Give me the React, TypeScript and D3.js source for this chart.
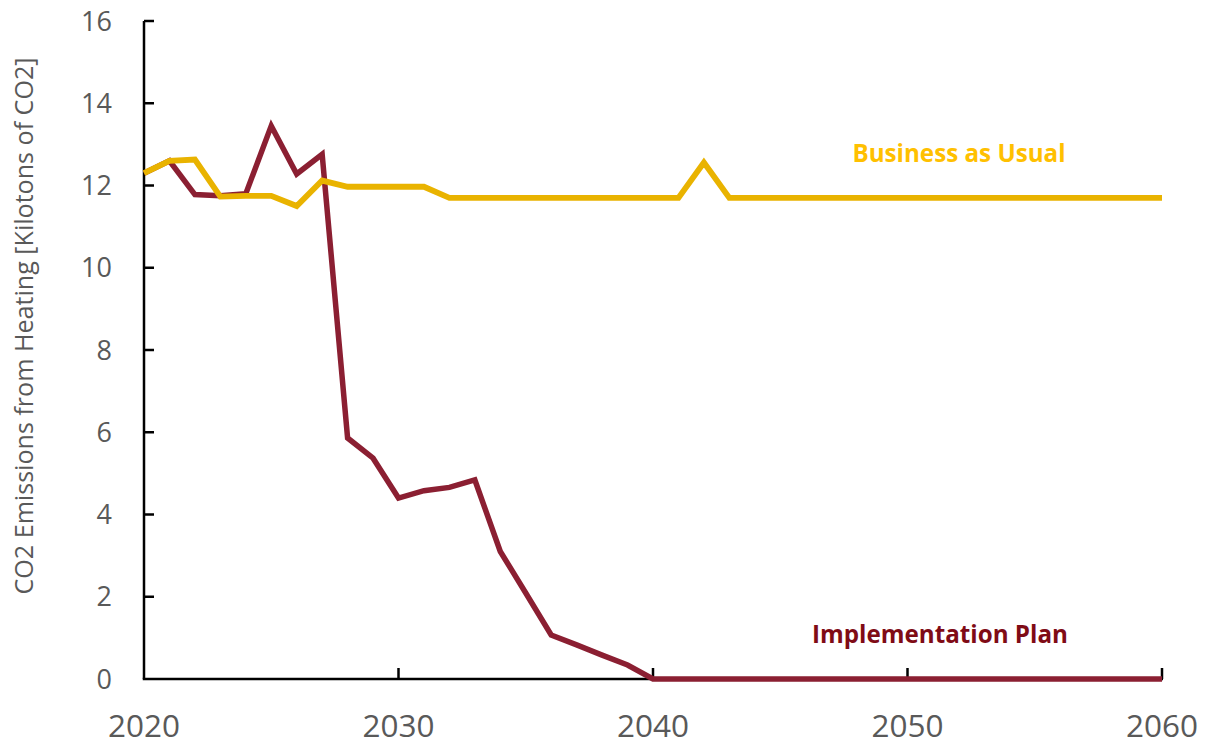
import React, { useEffect, useRef } from "react"
import * as d3 from "d3"

// years on the x axis
const years = [
  2020, 2021, 2022, 2023, 2024, 2025, 2026, 2027, 2028, 2029,
  2030, 2031, 2032, 2033, 2034, 2035, 2036, 2037, 2038, 2039,
  2040, 2041, 2042, 2043, 2044, 2045, 2046, 2047, 2048, 2049,
  2050, 2051, 2052, 2053, 2054, 2055, 2056, 2057, 2058, 2059, 2060,
]

// kilotons of CO2, business as usual
const businessAsUsual = [
  12.3, 12.6, 12.63, 11.73, 11.75, 11.75, 11.5, 12.12, 11.97, 11.97,
  11.97, 11.97, 11.7, 11.7, 11.7, 11.7, 11.7, 11.7, 11.7, 11.7,
  11.7, 11.7, 12.56, 11.7, 11.7, 11.7, 11.7, 11.7, 11.7, 11.7,
  11.7, 11.7, 11.7, 11.7, 11.7, 11.7, 11.7, 11.7, 11.7, 11.7, 11.7,
]

// kilotons of CO2, implementation plan
const implementationPlan = [
  12.3, 12.6, 11.78, 11.75, 11.8, 13.45, 12.28, 12.76, 5.86, 5.37,
  4.4, 4.58, 4.66, 4.84, 3.1, 2.09, 1.07, 0.83, 0.58, 0.34,
  0, 0, 0, 0, 0, 0, 0, 0, 0, 0,
  0, 0, 0, 0, 0, 0, 0, 0, 0, 0, 0,
]

const xTicks = [2020, 2030, 2040, 2050, 2060]
const yTicks = [0, 2, 4, 6, 8, 10, 12, 14, 16]

const W = 1212
const H = 746
const FONT = "'Open Sans', sans-serif"
const GREY = "#595959"

export default function App() {
  const ref = useRef<SVGSVGElement>(null)

  useEffect(() => {
    const svg = d3.select(ref.current)
    svg.selectAll("*").remove()

    const x = d3.scaleLinear().domain([2020, 2060]).range([144, 1162])
    const y = d3.scaleLinear().domain([0, 16]).range([679, 21])

    const line = d3.line<number>()
      .x((d, i) => x(years[i]))
      .y(d => y(d))

    // axes
    svg.append("line")
      .attr("x1", x(2020)).attr("x2", x(2020))
      .attr("y1", y(16)).attr("y2", y(0))
      .attr("stroke", "#000").attr("stroke-width", 2.5)
    svg.append("line")
      .attr("x1", x(2020) - 1.25).attr("x2", x(2060) + 1)
      .attr("y1", y(0)).attr("y2", y(0))
      .attr("stroke", "#000").attr("stroke-width", 2.5)

    svg.append("g").selectAll("line")
      .data(yTicks.filter(d => d > 0))
      .join("line")
      .attr("x1", x(2020)).attr("x2", x(2020) + 10)
      .attr("y1", d => y(d)).attr("y2", d => y(d))
      .attr("stroke", "#000").attr("stroke-width", 2.5)

    svg.append("g").selectAll("line")
      .data(xTicks.filter(d => d > 2020))
      .join("line")
      .attr("x1", d => x(d)).attr("x2", d => x(d))
      .attr("y1", y(0)).attr("y2", y(0) - 11)
      .attr("stroke", "#000").attr("stroke-width", 2.5)

    svg.append("g").selectAll("text")
      .data(yTicks)
      .join("text")
      .attr("x", 112)
      .attr("y", d => y(d))
      .attr("dy", "0.36em")
      .attr("text-anchor", "end")
      .attr("font-family", FONT)
      .attr("font-size", 27)
      .attr("fill", GREY)
      .text(d => d)

    svg.append("g").selectAll("text")
      .data(xTicks)
      .join("text")
      .attr("x", d => x(d))
      .attr("y", 737)
      .attr("text-anchor", "middle")
      .attr("font-family", FONT)
      .attr("font-size", 31.5)
      .attr("fill", GREY)
      .text(d => d)

    svg.append("text")
      .attr("transform", "translate(33, 326) rotate(-90)")
      .attr("text-anchor", "middle")
      .attr("font-family", FONT)
      .attr("font-size", 25.1)
      .attr("fill", GREY)
      .text("CO2 Emissions from Heating [Kilotons of CO2]")

    // series
    svg.append("path")
      .datum(implementationPlan)
      .attr("d", line)
      .attr("fill", "none")
      .attr("stroke", "#8B1F32")
      .attr("stroke-width", 5.5)
      .attr("stroke-linejoin", "miter")

    svg.append("path")
      .datum(businessAsUsual)
      .attr("d", line)
      .attr("fill", "none")
      .attr("stroke", "#E9B300")
      .attr("stroke-width", 5.8)
      .attr("stroke-linejoin", "miter")

    // labels
    svg.append("text")
      .attr("x", 959).attr("y", 162)
      .attr("text-anchor", "middle")
      .attr("font-family", FONT)
      .attr("font-weight", "bold")
      .attr("font-size", 24.2)
      .attr("fill", "#FFC000")
      .text("Business as Usual")

    svg.append("text")
      .attr("x", 940).attr("y", 643)
      .attr("text-anchor", "middle")
      .attr("font-family", FONT)
      .attr("font-weight", "bold")
      .attr("font-size", 24.2)
      .attr("fill", "#7F0B16")
      .text("Implementation Plan")
  }, [])

  return (
    <svg
      ref={ref}
      width={W}
      height={H}
      style={{ position: "absolute", left: 0, top: 0, background: "#fff" }}
    />
  )
}
